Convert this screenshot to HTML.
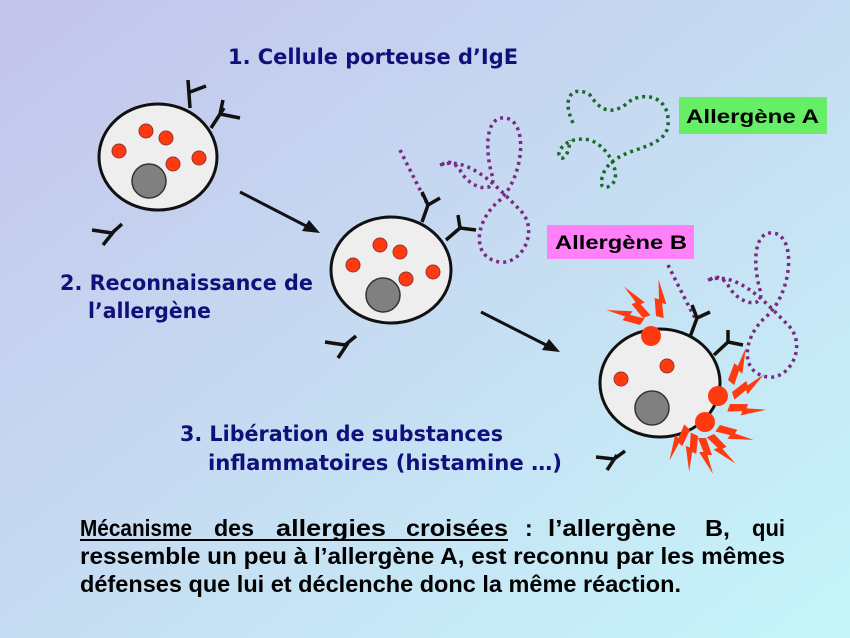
<!DOCTYPE html>
<html><head><meta charset="utf-8">
<style>
html,body{margin:0;padding:0;width:850px;height:638px;overflow:hidden}
svg{display:block}
.t{font-family:"DejaVu Sans","Liberation Sans",sans-serif;font-weight:bold;fill:#10107a;font-size:21px}
.b{font-family:"Liberation Sans",sans-serif;font-weight:bold;fill:#000;font-size:23px}
.lab{font-family:"Liberation Sans",sans-serif;font-weight:bold;fill:#000;font-size:19px}
</style></head><body>
<svg width="850" height="638" viewBox="0 0 850 638" xmlns="http://www.w3.org/2000/svg">
<defs>
<linearGradient id="bg" x1="0" y1="0" x2="1" y2="1">
<stop offset="0" stop-color="#c4c4ec"/>
<stop offset="0.5" stop-color="#c6dcf2"/>
<stop offset="1" stop-color="#c6f6fa"/>
</linearGradient>
<g id="bolt"><polygon points="0,0 -6,-17 -1.5,-17 -7,-36 7,-14 2.5,-14 8,0" fill="#ff3a10"/></g>
<path id="loop" d="M440 165 C470 155 500 190 520 210 C540 230 522 265 500 262 C470 258 475 220 500 200 C525 175 528 120 505 118 C485 116 485 150 492 175 C498 195 470 190 460 170 C452 158 440 162 442 168 M400 150 C410 170 420 190 428 205" fill="none" stroke="#7a2a80" stroke-width="3.5" stroke-dasharray="3 4"/>
</defs>
<rect width="850" height="638" fill="url(#bg)"/>

<text class="t" x="228" y="64" textLength="290" lengthAdjust="spacingAndGlyphs">1. Cellule porteuse d’IgE</text>
<text class="t" x="60" y="290" textLength="253" lengthAdjust="spacingAndGlyphs">2. Reconnaissance de</text>
<text class="t" x="88" y="318" textLength="123" lengthAdjust="spacingAndGlyphs">l’allergène</text>
<text class="t" x="180" y="441" textLength="323" lengthAdjust="spacingAndGlyphs">3. Libération de substances</text>
<text class="t" x="208" y="470" textLength="354" lengthAdjust="spacingAndGlyphs">inflammatoires (histamine …)</text>

<rect x="679" y="97" width="148" height="37" fill="#66ee66"/>
<text class="lab" x="686" y="123" textLength="133" lengthAdjust="spacingAndGlyphs">Allergène A</text>
<rect x="547" y="225" width="147" height="34" fill="#ff80f8"/>
<text class="lab" x="555" y="249" textLength="132" lengthAdjust="spacingAndGlyphs">Allergène B</text>

<path d="M573 123 C560 95 575 85 590 95 C600 110 610 115 625 105 C640 90 668 95 668 120 C670 140 650 145 630 152 C615 158 605 165 602 178 C598 190 610 190 615 180 C618 165 605 145 590 140 C575 137 565 142 560 150 C555 160 568 165 570 140" fill="none" stroke="#1a6a2a" stroke-width="3.5" stroke-dasharray="3 4"/>

<use href="#loop"/>
<use href="#loop" transform="translate(268,115)"/>

<ellipse cx="158" cy="157" rx="59" ry="53" fill="#eeeeee" stroke="#111" stroke-width="3"/>
<circle cx="146" cy="131" r="7" fill="#ff3a10" stroke="#933" stroke-width="1"/>
<circle cx="166" cy="138" r="7" fill="#ff3a10" stroke="#933" stroke-width="1"/>
<circle cx="119" cy="151" r="7" fill="#ff3a10" stroke="#933" stroke-width="1"/>
<circle cx="173" cy="164" r="7" fill="#ff3a10" stroke="#933" stroke-width="1"/>
<circle cx="199" cy="158" r="7" fill="#ff3a10" stroke="#933" stroke-width="1"/>
<circle cx="149" cy="181" r="17" fill="#808080" stroke="#333" stroke-width="1.5"/>
<path d="M190 108 L188 80 M190 92 L206 86" stroke="#111" stroke-width="3.5" fill="none"/>
<path d="M211 128 L224 108 M220 114 L240 118 M220 114 L223 100" stroke="#111" stroke-width="3.5" fill="none"/>
<path d="M103 245 L115 230 M92 230 L112 233 L122 224" stroke="#111" stroke-width="3.5" fill="none"/>

<line x1="240" y1="192" x2="310" y2="228" stroke="#111" stroke-width="3"/>
<polygon points="320,233 302,231 309,220" fill="#111"/>
<line x1="481" y1="312" x2="550" y2="347" stroke="#111" stroke-width="3"/>
<polygon points="560,352 542,350 549,339" fill="#111"/>

<ellipse cx="391" cy="270" rx="60" ry="53" fill="#eeeeee" stroke="#111" stroke-width="3"/>
<circle cx="380" cy="245" r="7" fill="#ff3a10" stroke="#933" stroke-width="1"/>
<circle cx="400" cy="252" r="7" fill="#ff3a10" stroke="#933" stroke-width="1"/>
<circle cx="353" cy="265" r="7" fill="#ff3a10" stroke="#933" stroke-width="1"/>
<circle cx="406" cy="279" r="7" fill="#ff3a10" stroke="#933" stroke-width="1"/>
<circle cx="433" cy="272" r="7" fill="#ff3a10" stroke="#933" stroke-width="1"/>
<circle cx="383" cy="295" r="17" fill="#808080" stroke="#333" stroke-width="1.5"/>
<path d="M422 222 L428 205 M428 205 L422 192 M428 205 L440 198" stroke="#111" stroke-width="3.5" fill="none"/>
<path d="M446 240 L460 228 M460 228 L458 215 M460 228 L476 230" stroke="#111" stroke-width="3.5" fill="none"/>
<path d="M338 358 L348 343 M325 342 L345 345 L356 336" stroke="#111" stroke-width="3.5" fill="none"/>

<ellipse cx="660" cy="383" rx="60" ry="54" fill="#eeeeee" stroke="#111" stroke-width="3"/>
<circle cx="621" cy="379" r="7" fill="#ff3a10" stroke="#933" stroke-width="1"/>
<circle cx="667" cy="366" r="7" fill="#ff3a10" stroke="#933" stroke-width="1"/>
<circle cx="652" cy="408" r="17" fill="#808080" stroke="#333" stroke-width="1.5"/>
<path d="M690 337 L697 318 M697 318 L692 305 M697 318 L710 312" stroke="#111" stroke-width="3.5" fill="none"/>
<path d="M714 355 L728 342 M728 342 L728 330 M728 342 L743 345" stroke="#111" stroke-width="3.5" fill="none"/>
<path d="M607 470 L617 455 M596 457 L614 459 L625 451" stroke="#111" stroke-width="3.5" fill="none"/>
<circle cx="651" cy="336" r="10" fill="#ff3a10"/>
<circle cx="718" cy="396" r="10" fill="#ff3a10"/>
<circle cx="705" cy="422" r="10" fill="#ff3a10"/>
<use href="#bolt" transform="translate(640,325) rotate(-55)"/>
<use href="#bolt" transform="translate(643,318) rotate(-20)"/>
<use href="#bolt" transform="translate(656,316) rotate(15)"/>
<use href="#bolt" transform="translate(728,380) rotate(40)"/>
<use href="#bolt" transform="translate(732,392) rotate(72)"/>
<use href="#bolt" transform="translate(730,404) rotate(110)"/>
<use href="#bolt" transform="translate(720,425) rotate(125)"/>
<use href="#bolt" transform="translate(698,436) rotate(205)"/>
<use href="#bolt" transform="translate(706,438) rotate(180)"/>
<use href="#bolt" transform="translate(714,434) rotate(155)"/>
<use href="#bolt" transform="translate(690,430) rotate(225)"/>

<text class="b" x="80" y="536" textLength="112" lengthAdjust="spacingAndGlyphs">Mécanisme</text>
<text class="b" x="214" y="536" textLength="40" lengthAdjust="spacingAndGlyphs">des</text>
<text class="b" x="276" y="536" textLength="110" lengthAdjust="spacingAndGlyphs">allergies</text>
<text class="b" x="406" y="536" textLength="102" lengthAdjust="spacingAndGlyphs">croisées</text>
<text class="b" x="525" y="536">:</text>
<text class="b" x="548" y="536" textLength="128" lengthAdjust="spacingAndGlyphs">l’allergène</text>
<text class="b" x="705" y="536" textLength="25" lengthAdjust="spacingAndGlyphs">B,</text>
<text class="b" x="752" y="536" textLength="33" lengthAdjust="spacingAndGlyphs">qui</text>
<line x1="80" y1="540" x2="508" y2="540" stroke="#000" stroke-width="2"/>
<text class="b" x="80" y="564" textLength="705" lengthAdjust="spacingAndGlyphs">ressemble un peu à l’allergène A, est reconnu par les mêmes</text>
<text class="b" x="80" y="592" textLength="601" lengthAdjust="spacingAndGlyphs">défenses que lui et déclenche donc la même réaction.</text>
</svg>
</body></html>
